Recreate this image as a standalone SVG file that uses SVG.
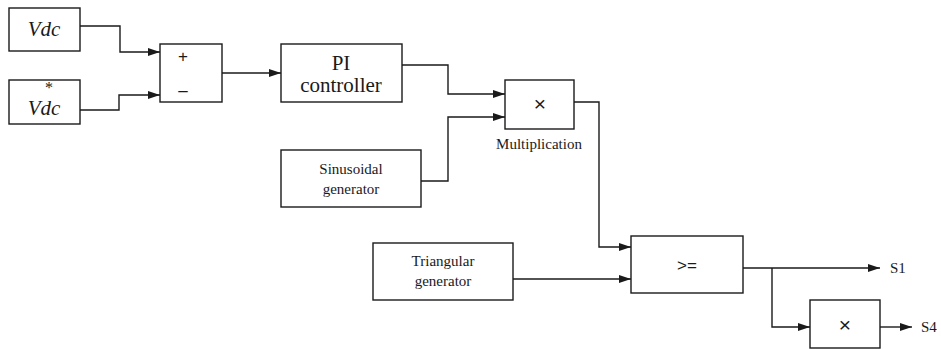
<svg xmlns="http://www.w3.org/2000/svg" width="941" height="349" viewBox="0 0 941 349">
<style>
.box{fill:#fff;stroke:#1a1a1a;stroke-width:1.4}
.ln{fill:none;stroke:#1a1a1a;stroke-width:1.4}
text{font-family:"Liberation Serif","DejaVu Serif",serif;fill:#1a1a1a;text-anchor:middle}
.big{font-size:21px}
.it{font-size:21px;font-style:italic}
.sm{font-size:15px}
.lbl{font-size:15px;text-anchor:start}
.op{font-family:"Liberation Sans","DejaVu Sans",sans-serif;font-size:17px}
.x{font-family:"Liberation Sans","DejaVu Sans",sans-serif;font-size:21px}
</style>
<defs>
<marker id="ah" markerWidth="12" markerHeight="8" refX="12" refY="4" orient="auto" markerUnits="userSpaceOnUse">
<path d="M0,0 L12,4 L0,8 Z" fill="#1a1a1a"/>
</marker>
</defs>
<rect width="941" height="349" fill="#fff"/>
<g id="connectors">
<polyline class="ln" points="80,26 120,26 120,52 160,52" marker-end="url(#ah)"/>
<polyline class="ln" points="80,110 119,110 119,95 160,95" marker-end="url(#ah)"/>
<polyline class="ln" points="222,73 281,73" marker-end="url(#ah)"/>
<polyline class="ln" points="402,65 448,65 448,94 505,94" marker-end="url(#ah)"/>
<polyline class="ln" points="421,181 448,181 448,117 505,117" marker-end="url(#ah)"/>
<polyline class="ln" points="574,102 599,102 599,247 631,247" marker-end="url(#ah)"/>
<polyline class="ln" points="513,279 631,279" marker-end="url(#ah)"/>
<polyline class="ln" points="743,268 880,268" marker-end="url(#ah)"/>
<polyline class="ln" points="772,268 772,327 810,327" marker-end="url(#ah)"/>
<polyline class="ln" points="880,327 912,327" marker-end="url(#ah)"/>
</g>
<g id="vdc">
<rect class="box" x="9" y="8" width="71" height="43"/>
<text class="it" x="44" y="36">Vdc</text>
</g>
<g id="vdc-ref">
<rect class="box" x="9" y="80" width="71" height="44"/>
<text x="49" y="93" style="font-size:16px">*</text>
<text class="it" x="44" y="115">Vdc</text>
</g>
<g id="sum">
<rect class="box" x="160" y="44" width="62" height="58"/>
<text class="op" x="183" y="62">+</text>
<text class="op" x="183" y="96">–</text>
</g>
<g id="pi">
<rect class="box" x="281" y="44" width="121" height="58"/>
<text class="big" x="341" y="70">PI</text>
<text class="big" x="341" y="92">controller</text>
</g>
<g id="mult">
<rect class="box" x="505" y="80" width="69" height="49"/>
<text class="x" x="540" y="111">×</text>
<text class="sm" x="539" y="149">Multiplication</text>
</g>
<g id="sine">
<rect class="box" x="281" y="150" width="140" height="57"/>
<text class="sm" x="351" y="174">Sinusoidal</text>
<text class="sm" x="351" y="194">generator</text>
</g>
<g id="tri">
<rect class="box" x="373" y="243" width="140" height="57"/>
<text class="sm" x="443" y="266">Triangular</text>
<text class="sm" x="443" y="286">generator</text>
</g>
<g id="compare">
<rect class="box" x="631" y="236" width="112" height="57"/>
<text class="op" x="687" y="271">&gt;=</text>
</g>
<g id="invert">
<rect class="box" x="810" y="300" width="70" height="48"/>
<text class="x" x="845" y="332">×</text>
</g>
<g id="s1"><text class="lbl" x="890" y="273">S1</text></g>
<g id="s4"><text class="lbl" x="921" y="332">S4</text></g>
</svg>
